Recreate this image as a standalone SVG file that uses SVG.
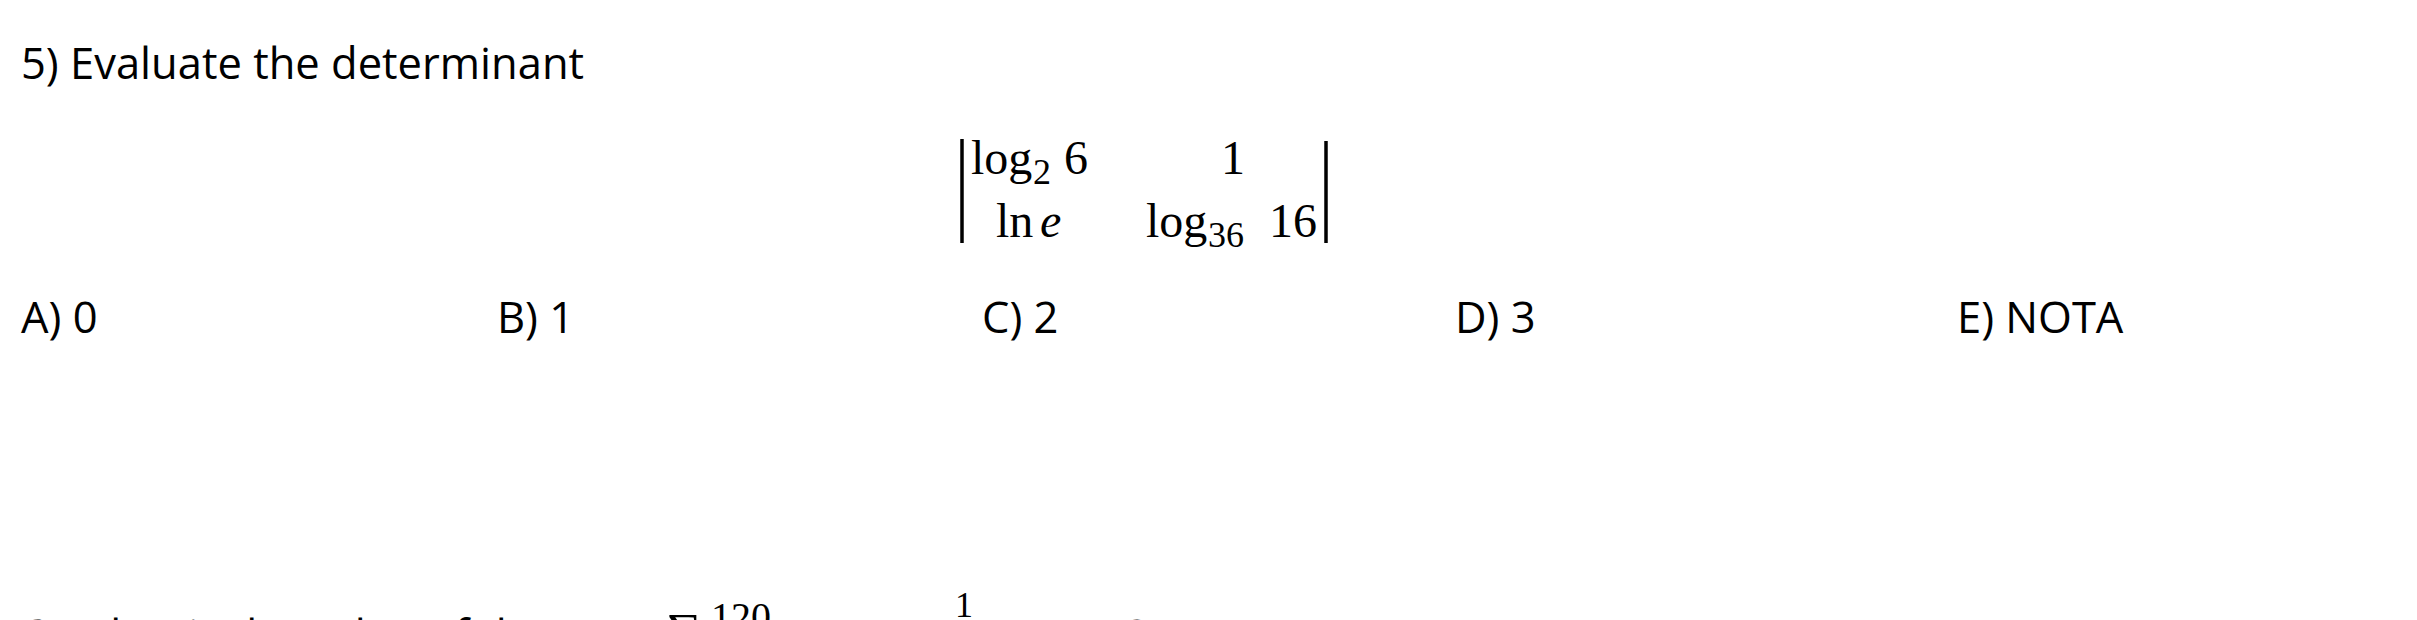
<svg xmlns="http://www.w3.org/2000/svg" width="2417" height="620" viewBox="0 0 2417 620">
<style>
.t{font-family:"Open Sans","Liberation Sans",sans-serif;font-size:43.5px;fill:#000}
.m{font-family:"Liberation Serif","DejaVu Serif",serif;font-size:48px;fill:#000}
.s{font-size:36px}
.i{font-style:italic}
.bar{stroke:#000;stroke-width:3.5;fill:none}
</style>
<rect width="2417" height="620" fill="#fff"/>
<g id="question">
<text class="t" x="21" y="79">5) Evaluate the determinant</text>
</g>
<g id="matrix">
<line class="bar" x1="962" y1="139" x2="962" y2="243"/>
<line class="bar" x1="1326" y1="141" x2="1326" y2="243"/>
<text class="m" x="971" y="174">log</text>
<text class="m s" x="1033" y="184">2</text>
<text class="m" x="1064" y="174">6</text>
<text class="m" x="1233" y="174" text-anchor="middle">1</text>
<text class="m" x="996" y="237">ln</text>
<text class="m i" x="1040" y="237">e</text>
<text class="m" x="1146" y="237">log</text>
<text class="m s" x="1208" y="247">36</text>
<text class="m" x="1269" y="237">16</text>
</g>
<g id="options">
<text class="t" x="21" y="333">A) 0</text>
<text class="t" x="497" y="333">B) 1</text>
<text class="t" x="982" y="333">C) 2</text>
<text class="t" x="1455" y="333">D) 3</text>
<text class="t" x="1957" y="333">E) NOTA</text>
</g>
<g id="next-question">
<text class="t" x="21" y="651">6) What is the value of the sum</text>
<text class="m" x="666" y="648" style="font-size:50px">∑</text>
<text class="m" x="711" y="630" style="font-size:40px">120</text>
<text class="m" x="964" y="617" text-anchor="middle" style="font-size:36px">1</text>
<text class="t" x="1128" y="651">?</text>
</g>
</svg>
